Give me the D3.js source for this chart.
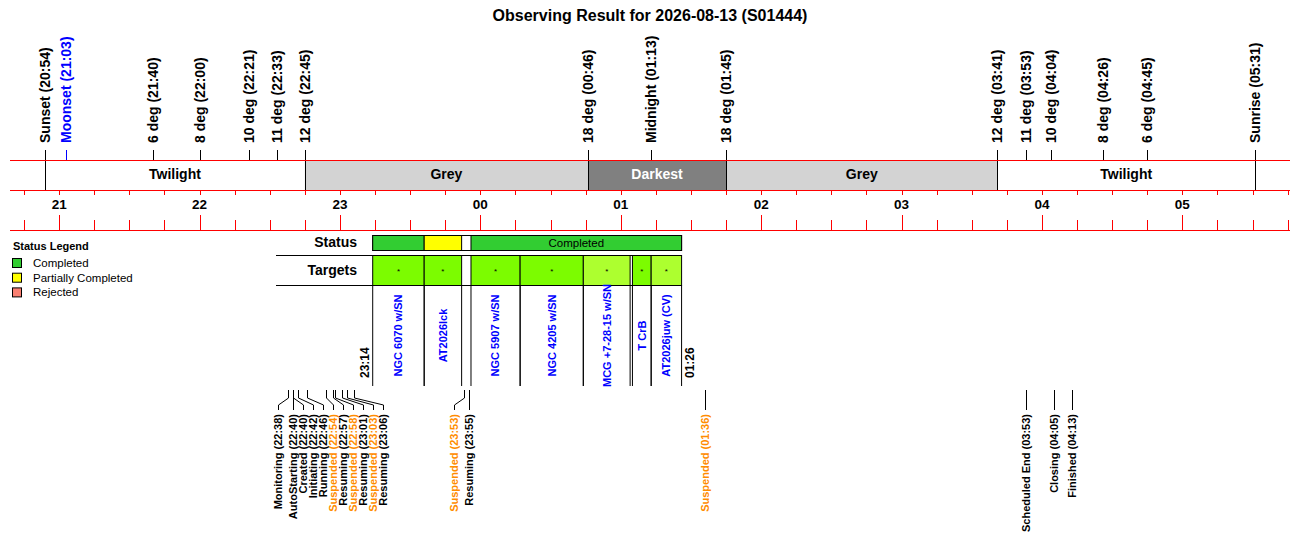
<!DOCTYPE html>
<html>
<head>
<meta charset="utf-8">
<script src="https://cdn.jsdelivr.net/npm/d3@7"></script>
<style>
body { margin: 0; background: #fff; }
text { font-family: "Liberation Sans", Arial, sans-serif; }
</style>
</head>
<body>
<script>
var title = "Observing Result for 2026-08-13 (S01444)";
var nightStart = "20:39", nightEnd = "05:46";

// sun / moon events along the top
var sunNames = ["Sunset","Moonset","6 deg","8 deg","10 deg","11 deg","12 deg","18 deg","Midnight",
                "18 deg","12 deg","11 deg","10 deg","8 deg","6 deg","Sunrise"];
var sunTimes = ["20:54","21:03","21:40","22:00","22:21","22:33","22:45","00:46","01:13",
                "01:45","03:41","03:53","04:04","04:26","04:45","05:31"];

// sky bands
var bandNames = ["Twilight","Grey","Darkest","Grey","Twilight"];
var bandStart = ["20:54","22:45","00:46","01:45","03:41"];
var bandEnd   = ["22:45","00:46","01:45","03:41","05:31"];
var bandFill  = ["#ffffff","#d3d3d3","#808080","#d3d3d3","#ffffff"];

// observation
var obsStart = "23:14", obsEnd = "01:26";
var statusStart = ["23:14","23:36","23:56"];
var statusEnd   = ["23:36","23:52","01:26"];
var statusVal   = ["Completed","Partially Completed","Completed"];

var targetNames = ["NGC 6070 w/SN","AT2026lck","NGC 5907 w/SN","NGC 4205 w/SN","MCG +7-28-15 w/SN","T CrB","AT2026juw (CV)"];
var targetStart = ["23:14","23:36","23:56","00:17","00:44","01:05","01:13"];
var targetEnd   = ["23:36","23:52","00:17","00:44","01:04","01:13","01:26"];
var targetFill  = ["#7cfc00","#7cfc00","#7cfc00","#7cfc00","#adff2f","#7cfc00","#adff2f"];

// system events along the bottom
var eventNames = ["Monitoring","AutoStarting","Created","Initiating","Running","Suspended","Resuming",
                  "Suspended","Resuming","Suspended","Resuming","Suspended","Resuming","Suspended",
                  "Scheduled End","Closing","Finished"];
var eventTimes = ["22:38","22:40","22:40","22:42","22:46","22:54","22:57","22:58","23:01","23:03",
                  "23:06","23:53","23:55","01:36","03:53","04:05","04:13"];

var legendNames = ["Completed","Partially Completed","Rejected"];
var legendFill  = ["#32cd32","#ffff00","#fa8072"];

var W = 1300, H = 560;

function tm(s) {
    var h = +s.slice(0, 2), m = +s.slice(3);
    return new Date(2026, 7, h < 12 ? 14 : 13, h, m);
}

var x = d3.scaleTime()
    .domain([tm(nightStart), tm(nightEnd)])
    .range([10, 1290]);

var svg = d3.select("body").append("svg")
    .attr("width", W)
    .attr("height", H);
svg.append("rect").attr("width", W).attr("height", H).attr("fill", "#fff");

// title
svg.append("text")
    .attr("x", W / 2).attr("y", 21)
    .attr("text-anchor", "middle")
    .style("font-size", "16px").style("font-weight", "bold")
    .text(title);

// bands
var band = svg.append("g");
bandNames.forEach(function(b, i) {
    var x0 = x(tm(bandStart[i])), x1 = x(tm(bandEnd[i]));
    band.append("rect")
        .attr("x", x0).attr("y", 160).attr("width", x1 - x0).attr("height", 30)
        .attr("fill", bandFill[i]);
    band.append("text")
        .attr("x", (x0 + x1) / 2).attr("y", 179)
        .attr("text-anchor", "middle")
        .style("font-size", "14px").style("font-weight", "bold")
        .attr("fill", b == "Darkest" ? "#fff" : "#000")
        .text(b);
});

// sun events: labels + lines (band edges run through the band)
var edges = bandStart.concat(bandEnd);
sunNames.forEach(function(n, i) {
    var xx = Math.round(x(tm(sunTimes[i]))) + 0.5;
    var col = n == "Moonset" ? "#0000ff" : "#000";
    svg.append("line")
        .attr("x1", xx).attr("x2", xx)
        .attr("y1", 150).attr("y2", edges.indexOf(sunTimes[i]) >= 0 ? 190 : 160)
        .attr("stroke", col).attr("stroke-width", 1);
    svg.append("text")
        .attr("transform", "translate(" + xx + ",143) rotate(-90)")
        .attr("dy", "0.35em")
        .attr("fill", col)
        .style("font-size", "14px").style("font-weight", "bold")
        .text(n + " (" + sunTimes[i] + ")");
});

// time axis
[160.5, 190.5, 230.5].forEach(function(y) {
    svg.append("line").attr("x1", 10).attr("x2", 1290).attr("y1", y).attr("y2", y)
        .attr("stroke", "#ff0000");
});
var quarters = x.ticks(d3.timeMinute.every(15));
var ax = svg.append("g").attr("stroke", "#ff0000");
quarters.forEach(function(d) {
    var xx = Math.round(x(d)) + 0.5;
    var hour = d.getMinutes() == 0;
    ax.append("line").attr("x1", xx).attr("x2", xx).attr("y1", 190).attr("y2", 195);
    ax.append("line").attr("x1", xx).attr("x2", xx).attr("y1", hour ? 215 : 220).attr("y2", 230);
});
x.ticks(d3.timeHour.every(1)).forEach(function(d) {
    svg.append("text")
        .attr("x", x(d)).attr("y", 209)
        .attr("text-anchor", "middle")
        .style("font-size", "13.5px").style("font-weight", "bold")
        .text(d3.timeFormat("%H")(d));
});

// legend
svg.append("text").attr("x", 13).attr("y", 250)
    .style("font-size", "11px").style("font-weight", "bold")
    .text("Status Legend");
legendNames.forEach(function(n, i) {
    svg.append("rect")
        .attr("x", 12.5).attr("y", 258.5 + i * 14.7).attr("width", 9).attr("height", 9)
        .attr("fill", legendFill[i]).attr("stroke", "#000");
    svg.append("text").attr("x", 33).attr("y", 267 + i * 14.7)
        .style("font-size", "11.5px")
        .text(n);
});

// status row
var xs = x(tm(obsStart)), xe = x(tm(obsEnd));
svg.append("text").attr("x", 357).attr("y", 247)
    .attr("text-anchor", "end")
    .style("font-size", "14px").style("font-weight", "bold")
    .text("Status");
svg.append("rect")
    .attr("x", xs).attr("y", 235.5).attr("width", xe - xs).attr("height", 15)
    .attr("fill", "#fff").attr("stroke", "#000");
statusVal.forEach(function(s, i) {
    var x0 = x(tm(statusStart[i])), x1 = x(tm(statusEnd[i]));
    svg.append("rect")
        .attr("x", x0).attr("y", 235.5).attr("width", x1 - x0).attr("height", 15)
        .attr("fill", legendFill[legendNames.indexOf(s)]).attr("stroke", "#000");
    if (x1 - x0 > s.length * 6.5 + 10) {
        svg.append("text")
            .attr("x", (x0 + x1) / 2).attr("y", 247)
            .attr("text-anchor", "middle")
            .style("font-size", "11.5px")
            .text(s);
    }
});

// targets row
svg.append("text").attr("x", 357).attr("y", 275)
    .attr("text-anchor", "end")
    .style("font-size", "14px").style("font-weight", "bold")
    .text("Targets");
[255.5, 285.5].forEach(function(y) {
    svg.append("line").attr("x1", 276).attr("x2", xe).attr("y1", y).attr("y2", y)
        .attr("stroke", "#000");
});
targetNames.forEach(function(n, i) {
    var x0 = x(tm(targetStart[i])), x1 = x(tm(targetEnd[i]));
    svg.append("rect")
        .attr("x", x0).attr("y", 255.5).attr("width", x1 - x0).attr("height", 30)
        .attr("fill", targetFill[i]).attr("stroke", "#000");
    svg.append("text")
        .attr("x", (x0 + x1) / 2).attr("y", 274)
        .attr("text-anchor", "middle")
        .style("font-size", "8px")
        .text("*");
    [x0, x1].forEach(function(v) {
        svg.append("line").attr("x1", v).attr("x2", v).attr("y1", 285.5).attr("y2", 386)
            .attr("stroke", "#000");
    });
    svg.append("text")
        .attr("transform", "translate(" + (x0 + x1) / 2 + ",335.5) rotate(-90)")
        .attr("dy", "0.35em")
        .attr("text-anchor", "middle")
        .attr("fill", "#0000ff")
        .style("font-size", "11px").style("font-weight", "bold")
        .text(n);
});
svg.append("text")
    .attr("transform", "translate(" + (xs - 8) + ",378) rotate(-90)")
    .attr("dy", "0.35em")
    .style("font-size", "12px").style("font-weight", "bold")
    .text(obsStart);
svg.append("text")
    .attr("transform", "translate(" + (xe + 8) + ",378) rotate(-90)")
    .attr("dy", "0.35em")
    .style("font-size", "12px").style("font-weight", "bold")
    .text(obsEnd);

// bottom events, labels pushed apart when crowded:
// a crowded group's first label steps left, the rest are pushed right
var ex = eventTimes.map(function(t) { return x(tm(t)); });
var gap = 10, lx = [];
ex.forEach(function(v, i) {
    var prev = i > 0 ? lx[i - 1] : -Infinity;
    var prevAnchor = i > 0 ? ex[i - 1] : -Infinity;
    var starts = v - prev >= gap && v - prevAnchor >= gap;
    if (starts && i + 1 < ex.length && ex[i + 1] - v < gap) {
        lx.push(ex[i + 1] - 1.5 * gap);
    } else {
        lx.push(Math.max(v, prev + gap));
    }
});
eventNames.forEach(function(n, i) {
    var a = Math.round(ex[i]) + 0.5, b = Math.round(lx[i]) + 0.5;
    svg.append("path")
        .attr("d", "M" + a + ",390V398L" + b + ",405V410")
        .attr("fill", "none").attr("stroke", "#000");
    svg.append("text")
        .attr("transform", "translate(" + b + ",414) rotate(-90)")
        .attr("dy", "0.35em")
        .attr("text-anchor", "end")
        .attr("fill", n == "Suspended" ? "#ff8c00" : "#000")
        .style("font-size", "11px").style("font-weight", "bold")
        .text(n + " (" + eventTimes[i] + ")");
});
</script>
</body>
</html>
